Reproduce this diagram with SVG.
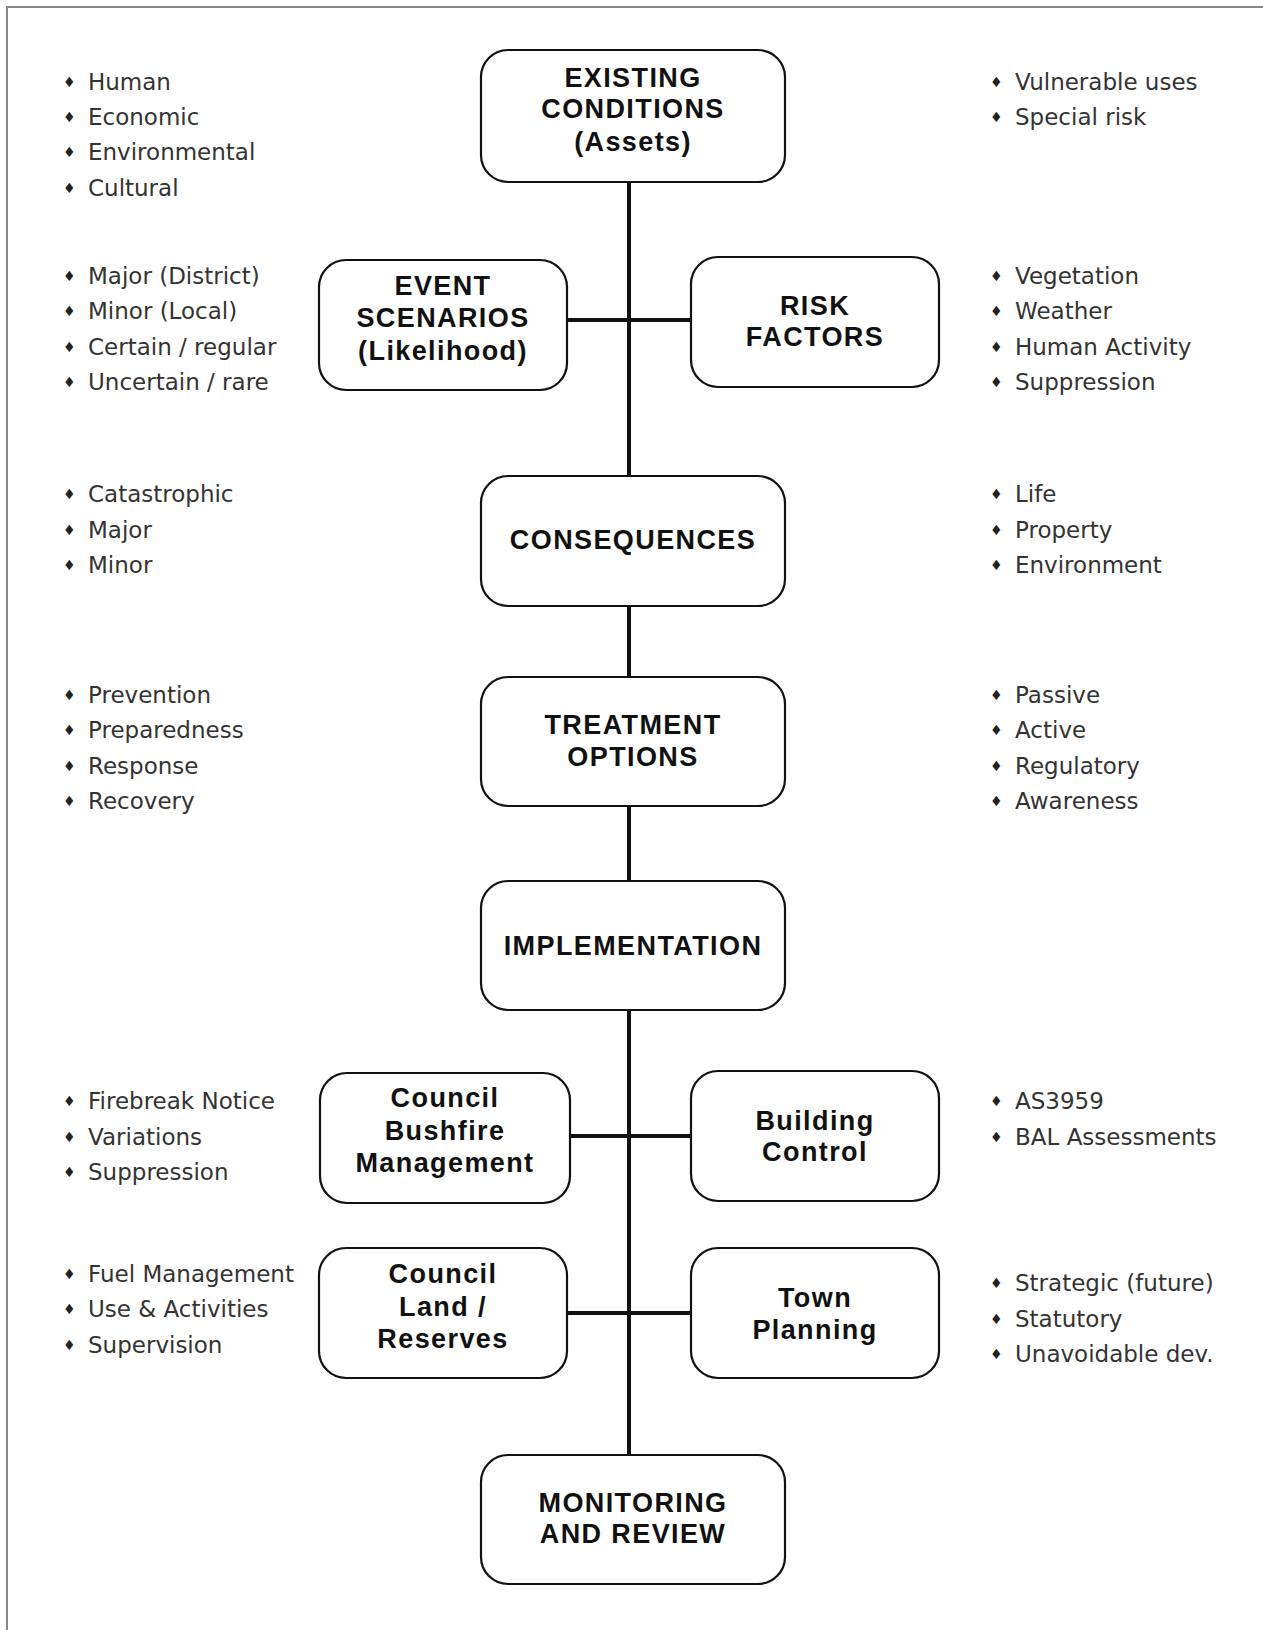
<svg xmlns="http://www.w3.org/2000/svg" width="1263" height="1630" viewBox="0 0 1263 1630">
<style>
.box{fill:#fff;stroke:#111;stroke-width:2.2}
.n{font-family:"Liberation Sans",Arial,sans-serif;font-weight:bold;font-size:27px;letter-spacing:1.4px;fill:#111;text-anchor:middle}
.b{font-family:"Comic Sans MS","DejaVu Sans",sans-serif;font-size:23px;fill:#333}
.d{font-size:14px;fill:#222;font-family:"DejaVu Sans",sans-serif}
.c{stroke:#111;stroke-width:4;fill:none}
.frame{stroke:#888;stroke-width:2;fill:none}
</style>
<rect width="1263" height="1630" fill="#fff"/>
<path class="frame" d="M7,1630 V7 H1263"/>
<g id="connectors">
<line class="c" x1="629" y1="182" x2="629" y2="1455"/>
<line class="c" x1="567" y1="320" x2="691" y2="320"/>
<line class="c" x1="570" y1="1136" x2="691" y2="1136"/>
<line class="c" x1="567" y1="1313" x2="691" y2="1313"/>
</g>
<g id="existing">
<rect class="box" x="481" y="50" width="304" height="132" rx="27"/>
<text class="n" x="633" y="87">EXISTING</text>
<text class="n" x="633" y="118">CONDITIONS</text>
<text class="n" x="633" y="151">(Assets)</text>
</g>
<g id="event">
<rect class="box" x="319" y="260" width="248" height="130" rx="27"/>
<text class="n" x="443" y="295">EVENT</text>
<text class="n" x="443" y="327">SCENARIOS</text>
<text class="n" x="443" y="360">(Likelihood)</text>
</g>
<g id="risk">
<rect class="box" x="691" y="257" width="248" height="130" rx="27"/>
<text class="n" x="815" y="315">RISK</text>
<text class="n" x="815" y="346">FACTORS</text>
</g>
<g id="consequences">
<rect class="box" x="481" y="476" width="304" height="130" rx="27"/>
<text class="n" x="633" y="549">CONSEQUENCES</text>
</g>
<g id="treatment">
<rect class="box" x="481" y="677" width="304" height="129" rx="27"/>
<text class="n" x="633" y="734">TREATMENT</text>
<text class="n" x="633" y="766">OPTIONS</text>
</g>
<g id="implementation">
<rect class="box" x="481" y="881" width="304" height="129" rx="27"/>
<text class="n" x="633" y="955">IMPLEMENTATION</text>
</g>
<g id="bushfire">
<rect class="box" x="320" y="1073" width="250" height="130" rx="27"/>
<text class="n" x="445" y="1107">Council</text>
<text class="n" x="445" y="1140">Bushfire</text>
<text class="n" x="445" y="1172">Management</text>
</g>
<g id="building">
<rect class="box" x="691" y="1071" width="248" height="130" rx="27"/>
<text class="n" x="815" y="1130">Building</text>
<text class="n" x="815" y="1161">Control</text>
</g>
<g id="land">
<rect class="box" x="319" y="1248" width="248" height="130" rx="27"/>
<text class="n" x="443" y="1283">Council</text>
<text class="n" x="443" y="1316">Land /</text>
<text class="n" x="443" y="1348">Reserves</text>
</g>
<g id="town">
<rect class="box" x="691" y="1248" width="248" height="130" rx="27"/>
<text class="n" x="815" y="1307">Town</text>
<text class="n" x="815" y="1339">Planning</text>
</g>
<g id="monitoring">
<rect class="box" x="481" y="1455" width="304" height="129" rx="27"/>
<text class="n" x="633" y="1512">MONITORING</text>
<text class="n" x="633" y="1543">AND REVIEW</text>
</g>
<g id="lists-left">
<text class="b" y="90"><tspan class="d" x="63" dy="-3">♦</tspan><tspan x="88" dy="3">Human</tspan></text>
<text class="b" y="125"><tspan class="d" x="63" dy="-3">♦</tspan><tspan x="88" dy="3">Economic</tspan></text>
<text class="b" y="160"><tspan class="d" x="63" dy="-3">♦</tspan><tspan x="88" dy="3">Environmental</tspan></text>
<text class="b" y="196"><tspan class="d" x="63" dy="-3">♦</tspan><tspan x="88" dy="3">Cultural</tspan></text>
<text class="b" y="284"><tspan class="d" x="63" dy="-3">♦</tspan><tspan x="88" dy="3">Major (District)</tspan></text>
<text class="b" y="319"><tspan class="d" x="63" dy="-3">♦</tspan><tspan x="88" dy="3">Minor (Local)</tspan></text>
<text class="b" y="355"><tspan class="d" x="63" dy="-3">♦</tspan><tspan x="88" dy="3">Certain / regular</tspan></text>
<text class="b" y="390"><tspan class="d" x="63" dy="-3">♦</tspan><tspan x="88" dy="3">Uncertain / rare</tspan></text>
<text class="b" y="502"><tspan class="d" x="63" dy="-3">♦</tspan><tspan x="88" dy="3">Catastrophic</tspan></text>
<text class="b" y="538"><tspan class="d" x="63" dy="-3">♦</tspan><tspan x="88" dy="3">Major</tspan></text>
<text class="b" y="573"><tspan class="d" x="63" dy="-3">♦</tspan><tspan x="88" dy="3">Minor</tspan></text>
<text class="b" y="703"><tspan class="d" x="63" dy="-3">♦</tspan><tspan x="88" dy="3">Prevention</tspan></text>
<text class="b" y="738"><tspan class="d" x="63" dy="-3">♦</tspan><tspan x="88" dy="3">Preparedness</tspan></text>
<text class="b" y="774"><tspan class="d" x="63" dy="-3">♦</tspan><tspan x="88" dy="3">Response</tspan></text>
<text class="b" y="809"><tspan class="d" x="63" dy="-3">♦</tspan><tspan x="88" dy="3">Recovery</tspan></text>
<text class="b" y="1109"><tspan class="d" x="63" dy="-3">♦</tspan><tspan x="88" dy="3">Firebreak Notice</tspan></text>
<text class="b" y="1145"><tspan class="d" x="63" dy="-3">♦</tspan><tspan x="88" dy="3">Variations</tspan></text>
<text class="b" y="1180"><tspan class="d" x="63" dy="-3">♦</tspan><tspan x="88" dy="3">Suppression</tspan></text>
<text class="b" y="1282"><tspan class="d" x="63" dy="-3">♦</tspan><tspan x="88" dy="3">Fuel Management</tspan></text>
<text class="b" y="1317"><tspan class="d" x="63" dy="-3">♦</tspan><tspan x="88" dy="3">Use &amp; Activities</tspan></text>
<text class="b" y="1353"><tspan class="d" x="63" dy="-3">♦</tspan><tspan x="88" dy="3">Supervision</tspan></text>
</g>
<g id="lists-right">
<text class="b" y="90"><tspan class="d" x="990" dy="-3">♦</tspan><tspan x="1015" dy="3">Vulnerable uses</tspan></text>
<text class="b" y="125"><tspan class="d" x="990" dy="-3">♦</tspan><tspan x="1015" dy="3">Special risk</tspan></text>
<text class="b" y="284"><tspan class="d" x="990" dy="-3">♦</tspan><tspan x="1015" dy="3">Vegetation</tspan></text>
<text class="b" y="319"><tspan class="d" x="990" dy="-3">♦</tspan><tspan x="1015" dy="3">Weather</tspan></text>
<text class="b" y="355"><tspan class="d" x="990" dy="-3">♦</tspan><tspan x="1015" dy="3">Human Activity</tspan></text>
<text class="b" y="390"><tspan class="d" x="990" dy="-3">♦</tspan><tspan x="1015" dy="3">Suppression</tspan></text>
<text class="b" y="502"><tspan class="d" x="990" dy="-3">♦</tspan><tspan x="1015" dy="3">Life</tspan></text>
<text class="b" y="538"><tspan class="d" x="990" dy="-3">♦</tspan><tspan x="1015" dy="3">Property</tspan></text>
<text class="b" y="573"><tspan class="d" x="990" dy="-3">♦</tspan><tspan x="1015" dy="3">Environment</tspan></text>
<text class="b" y="703"><tspan class="d" x="990" dy="-3">♦</tspan><tspan x="1015" dy="3">Passive</tspan></text>
<text class="b" y="738"><tspan class="d" x="990" dy="-3">♦</tspan><tspan x="1015" dy="3">Active</tspan></text>
<text class="b" y="774"><tspan class="d" x="990" dy="-3">♦</tspan><tspan x="1015" dy="3">Regulatory</tspan></text>
<text class="b" y="809"><tspan class="d" x="990" dy="-3">♦</tspan><tspan x="1015" dy="3">Awareness</tspan></text>
<text class="b" y="1109"><tspan class="d" x="990" dy="-3">♦</tspan><tspan x="1015" dy="3">AS3959</tspan></text>
<text class="b" y="1145"><tspan class="d" x="990" dy="-3">♦</tspan><tspan x="1015" dy="3">BAL Assessments</tspan></text>
<text class="b" y="1291"><tspan class="d" x="990" dy="-3">♦</tspan><tspan x="1015" dy="3">Strategic (future)</tspan></text>
<text class="b" y="1327"><tspan class="d" x="990" dy="-3">♦</tspan><tspan x="1015" dy="3">Statutory</tspan></text>
<text class="b" y="1362"><tspan class="d" x="990" dy="-3">♦</tspan><tspan x="1015" dy="3">Unavoidable dev.</tspan></text>
</g>
</svg>
